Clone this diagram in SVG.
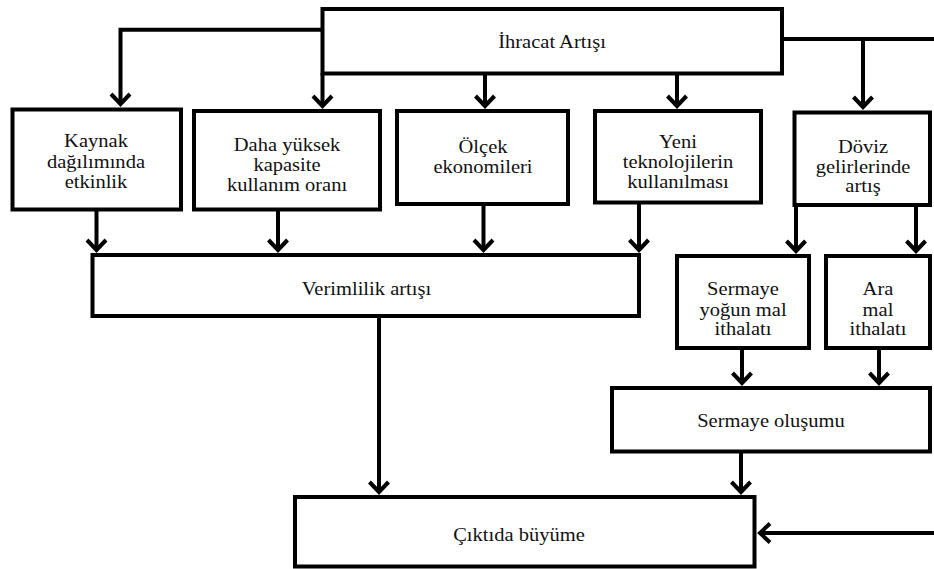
<svg xmlns="http://www.w3.org/2000/svg" width="934" height="569" viewBox="0 0 934 569">
  <style>
    .box { fill: #ffffff; stroke: #000000; stroke-width: 4; }
    .lbl { font-family: 'Liberation Serif', 'DejaVu Serif', serif; font-size: 18px; fill: #111111; text-anchor: middle; }
    .wire { fill: none; stroke: #000000; stroke-width: 4; }
    .arr { fill: none; stroke: #000000; stroke-width: 4; marker-end: url(#ah); }
  </style>
  <defs>
    <marker id="ah" viewBox="-14 -12 18 24" refX="0" refY="0" markerWidth="18" markerHeight="24" markerUnits="userSpaceOnUse" orient="auto" overflow="visible">
      <path d="M -10 -9.5 L 0 0 L -10 9.5" fill="none" stroke="#000000" stroke-width="4"/>
    </marker>
  </defs>
  <rect width="934" height="569" fill="#ffffff"/>

  <g id="connectors">
    <polyline class="arr" points="322.5,29.7 120.5,29.7 120.5,104"/>
    <line class="arr" x1="322.5" y1="73" x2="322.5" y2="106"/>
    <line class="arr" x1="485" y1="75" x2="485" y2="106"/>
    <line class="arr" x1="677" y1="75" x2="677" y2="106"/>
    <line class="wire" x1="782" y1="39" x2="934" y2="39"/>
    <line class="arr" x1="863" y1="39" x2="863" y2="107"/>
    <line class="arr" x1="96.5" y1="211" x2="96.5" y2="250"/>
    <line class="arr" x1="278" y1="211" x2="278" y2="250"/>
    <line class="arr" x1="483.5" y1="206" x2="483.5" y2="250"/>
    <line class="arr" x1="639" y1="204" x2="639" y2="250"/>
    <line class="arr" x1="796" y1="207" x2="796" y2="251"/>
    <line class="arr" x1="916" y1="207" x2="916" y2="251"/>
    <line class="arr" x1="742" y1="350" x2="742" y2="383"/>
    <line class="arr" x1="879" y1="350" x2="879" y2="383"/>
    <line class="arr" x1="379" y1="318" x2="379" y2="492"/>
    <line class="arr" x1="741" y1="453" x2="741" y2="492"/>
    <line class="arr" x1="934" y1="533" x2="760" y2="533"/>
  </g>

  <g id="ihracat">
    <rect class="box" x="322.5" y="9" width="459.5" height="64.5"/>
    <text class="lbl" font-family="Liberation Serif" transform="translate(552,0) scale(1.14,1)"><tspan x="0" y="48">İhracat Artışı</tspan></text>
  </g>

  <g id="kaynak">
    <rect class="box" x="12.5" y="109.5" width="168.5" height="100"/>
    <text class="lbl" transform="translate(96,0) scale(1.14,1)"><tspan x="0" y="147">Kaynak</tspan><tspan x="0" y="168">dağılımında</tspan><tspan x="0" y="188">etkinlik</tspan></text>
  </g>

  <g id="kapasite">
    <rect class="box" x="194" y="111" width="186" height="98.5"/>
    <text class="lbl" transform="translate(287,0) scale(1.14,1)"><tspan x="0" y="151">Daha yüksek</tspan><tspan x="0" y="171">kapasite</tspan><tspan x="0" y="191">kullanım oranı</tspan></text>
  </g>

  <g id="olcek">
    <rect class="box" x="397" y="111" width="171" height="93"/>
    <text class="lbl" transform="translate(483,0) scale(1.14,1)"><tspan x="0" y="153">Ölçek</tspan><tspan x="0" y="173">ekonomileri</tspan></text>
  </g>

  <g id="teknoloji">
    <rect class="box" x="595" y="111" width="166" height="91.5"/>
    <text class="lbl" transform="translate(678,0) scale(1.14,1)"><tspan x="0" y="148">Yeni</tspan><tspan x="0" y="168">teknolojilerin</tspan><tspan x="0" y="188">kullanılması</tspan></text>
  </g>

  <g id="doviz">
    <rect class="box" x="794.5" y="112.5" width="135.5" height="92.5"/>
    <text class="lbl" transform="translate(863,0) scale(1.14,1)"><tspan x="0" y="153">Döviz</tspan><tspan x="0" y="173">gelirlerinde</tspan><tspan x="0" y="192">artış</tspan></text>
  </g>

  <g id="verimlilik">
    <rect class="box" x="92.5" y="255" width="546.5" height="61"/>
    <text class="lbl" transform="translate(366.5,0) scale(1.14,1)"><tspan x="0" y="295">Verimlilik artışı</tspan></text>
  </g>

  <g id="sermaye-mal">
    <rect class="box" x="677" y="256" width="132" height="92"/>
    <text class="lbl" transform="translate(743,0) scale(1.14,1)"><tspan x="0" y="295">Sermaye</tspan><tspan x="0" y="316">yoğun mal</tspan><tspan x="0" y="335">ithalatı</tspan></text>
  </g>

  <g id="ara-mal">
    <rect class="box" x="826" y="256" width="104" height="92"/>
    <text class="lbl" transform="translate(878,0) scale(1.14,1)"><tspan x="0" y="295">Ara</tspan><tspan x="0" y="316">mal</tspan><tspan x="0" y="335">ithalatı</tspan></text>
  </g>

  <g id="sermaye-olusumu">
    <rect class="box" x="612" y="388" width="318" height="63.5"/>
    <text class="lbl" transform="translate(771,0) scale(1.14,1)"><tspan x="0" y="427">Sermaye oluşumu</tspan></text>
  </g>

  <g id="cikti">
    <rect class="box" x="295" y="497" width="459.5" height="69.5"/>
    <text class="lbl" transform="translate(519,0) scale(1.14,1)"><tspan x="0" y="541">Çıktıda büyüme</tspan></text>
  </g>
</svg>
